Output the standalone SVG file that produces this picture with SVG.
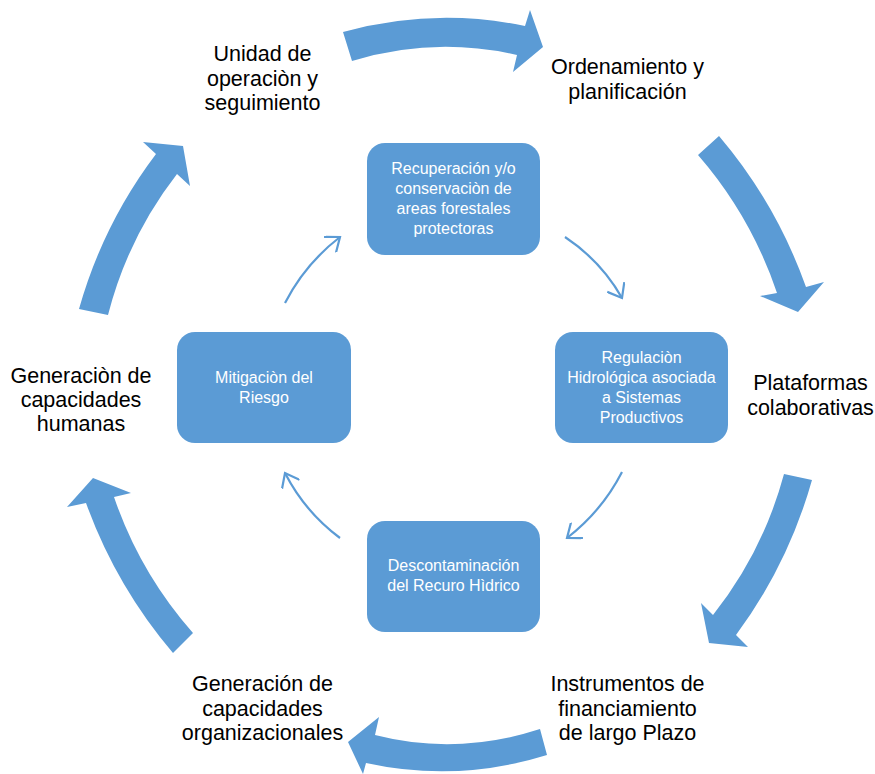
<svg xmlns="http://www.w3.org/2000/svg" width="875" height="774" viewBox="0 0 875 774">
  <style>
    .big { fill: #5B9BD5; }
    .box { fill: #5B9BD5; }
    .btxt { font-family: "Liberation Sans", Arial, sans-serif; font-size: 16px; fill: #FFFFFF; text-anchor: middle; }
    .otxt { font-family: "Liberation Sans", Arial, sans-serif; font-size: 21.5px; fill: #000000; text-anchor: middle; }
    .conn { fill: none; stroke: #5B9BD5; stroke-width: 2.2; }
  </style>
  <defs>
    <marker id="vhead" viewBox="0 0 20 20" refX="18" refY="10" markerWidth="20" markerHeight="20" markerUnits="userSpaceOnUse" orient="auto">
      <path d="M5.4,0.2 L18,10 L5.4,19.8" fill="none" stroke="#5B9BD5" stroke-width="2.2"/>
    </marker>
  </defs>

  <rect width="875" height="774" fill="#FFFFFF"/>

  <g id="cycle-arrows">
    <path class="big" d="M343,32 Q434,7 525,26 L530,10 L543,47 L513,72 L517,55 Q434,36 352,61 Z"/>
    <path class="big" d="M719,136 Q776,203 806,287 L824,282 L798,312 L760,296 L777,293 Q751,216 698,155 Z"/>
    <path class="big" d="M812,480 Q788,565 736,635 L748,647 L709,643 L701,603 L713,615 Q763,552 784,474 Z"/>
    <path class="big" d="M540,729 Q457,756 375,735 L379,717 L348,742 L363,774 L366,763 Q457,783 547,755 Z"/>
    <path class="big" d="M173,653 Q116,586 86,503 L67,507 L93,478 L131,493 L114,497 Q140,573 193,633 Z"/>
    <path class="big" d="M108,315 Q128,237 177,174 L190,186 L183,146 L143,142 L156,154 Q103,224 79,309 Z"/>
  </g>

  <g id="connectors">
    <path class="conn" d="M565,237 Q601,261 622,298" marker-end="url(#vhead)"/>
    <path class="conn" d="M622,472 Q602,511 567,538" marker-end="url(#vhead)"/>
    <path class="conn" d="M340,538 Q305,512 285,473" marker-end="url(#vhead)"/>
    <path class="conn" d="M285,303 Q305,264 340,237" marker-end="url(#vhead)"/>
  </g>

  <g id="node-recuperacion">
    <rect class="box" x="367" y="143" width="173" height="112" rx="18"/>
    <text class="btxt" x="453.5" y="174">Recuperación y/o</text>
    <text class="btxt" x="453.5" y="194">conservaciòn de</text>
    <text class="btxt" x="453.5" y="214">areas forestales</text>
    <text class="btxt" x="453.5" y="234">protectoras</text>
  </g>

  <g id="node-regulacion">
    <rect class="box" x="555" y="332" width="173" height="111" rx="18"/>
    <text class="btxt" x="641.5" y="363">Regulaciòn</text>
    <text class="btxt" x="641.5" y="383">Hidrológica asociada</text>
    <text class="btxt" x="641.5" y="403">a Sistemas</text>
    <text class="btxt" x="641.5" y="423">Productivos</text>
  </g>

  <g id="node-descontaminacion">
    <rect class="box" x="367" y="521" width="173" height="111" rx="18"/>
    <text class="btxt" x="453.5" y="571">Descontaminación</text>
    <text class="btxt" x="453.5" y="591">del Recuro Hìdrico</text>
  </g>

  <g id="node-mitigacion">
    <rect class="box" x="177" y="332" width="174" height="111" rx="18"/>
    <text class="btxt" x="264" y="383">Mitigaciòn del</text>
    <text class="btxt" x="264" y="403">Riesgo</text>
  </g>

  <g id="label-unidad">
    <text class="otxt" x="262.5" y="61">Unidad de</text>
    <text class="otxt" x="262.5" y="85.5">operaciòn y</text>
    <text class="otxt" x="262.5" y="110">seguimiento</text>
  </g>

  <g id="label-ordenamiento">
    <text class="otxt" x="627.5" y="74">Ordenamiento y</text>
    <text class="otxt" x="627.5" y="98.5">planificación</text>
  </g>

  <g id="label-plataformas">
    <text class="otxt" x="810.5" y="390">Plataformas</text>
    <text class="otxt" x="810.5" y="414.5">colaborativas</text>
  </g>

  <g id="label-instrumentos">
    <text class="otxt" x="627.5" y="691">Instrumentos de</text>
    <text class="otxt" x="627.5" y="715.5">financiamiento</text>
    <text class="otxt" x="627.5" y="740">de largo Plazo</text>
  </g>

  <g id="label-organizacionales">
    <text class="otxt" x="262.5" y="691">Generación de</text>
    <text class="otxt" x="262.5" y="715.5">capacidades</text>
    <text class="otxt" x="262.5" y="740">organizacionales</text>
  </g>

  <g id="label-humanas">
    <text class="otxt" x="81" y="383">Generaciòn de</text>
    <text class="otxt" x="81" y="407">capacidades</text>
    <text class="otxt" x="81" y="431">humanas</text>
  </g>
</svg>
